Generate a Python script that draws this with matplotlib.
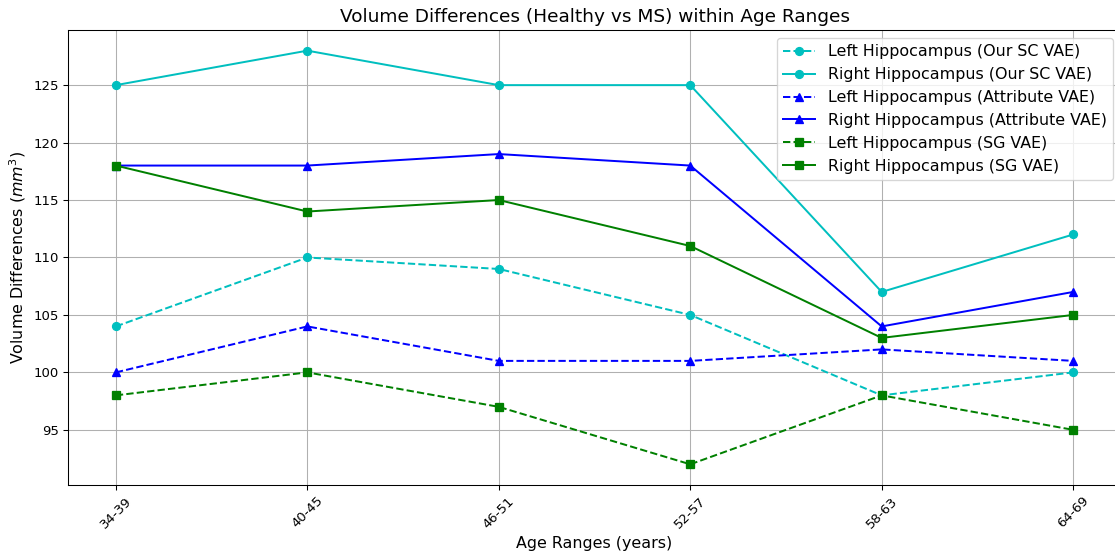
import matplotlib
matplotlib.use("Agg")
import matplotlib.pyplot as plt

age_ranges = ["34-39", "40-45", "46-51", "52-57", "58-63", "64-69"]
left_sc = [104, 110, 109, 105, 98, 100]
right_sc = [125, 128, 125, 125, 107, 112]
left_attr = [100, 104, 101, 101, 102, 101]
right_attr = [118, 118, 119, 118, 104, 107]
left_sg = [98, 100, 97, 92, 98, 95]
right_sg = [118, 114, 115, 111, 103, 105]

DPI = 95
fig = plt.figure(figsize=(1115 / DPI, 552 / DPI), dpi=DPI)
ax = fig.add_axes([0.061, 0.1214, 0.9444, 0.8243])
x = list(range(len(age_ranges)))
ax.plot(x, left_sc, 'c--', marker='o', label='Left Hippocampus (Our SC VAE)')
ax.plot(x, right_sc, 'c-', marker='o', label='Right Hippocampus (Our SC VAE)')
ax.plot(x, left_attr, 'b--', marker='^', label='Left Hippocampus (Attribute VAE)')
ax.plot(x, right_attr, 'b-', marker='^', label='Right Hippocampus (Attribute VAE)')
ax.plot(x, left_sg, 'g--', marker='s', label='Left Hippocampus (SG VAE)')
ax.plot(x, right_sg, 'g-', marker='s', label='Right Hippocampus (SG VAE)')
ax.set_xticks(x)
ax.set_xticklabels(age_ranges, rotation=45)
ax.set_yticks([95, 100, 105, 110, 115, 120, 125])
ax.set_xlabel('Age Ranges (years)', fontsize=12)
ax.set_ylabel('Volume Differences ($mm^3$)', fontsize=12)
ax.set_title('Volume Differences (Healthy vs MS) within Age Ranges', fontsize=14)
ax.grid(True)
ax.legend(loc='upper right', fontsize=12)
fig.savefig('out.png', dpi=DPI)
